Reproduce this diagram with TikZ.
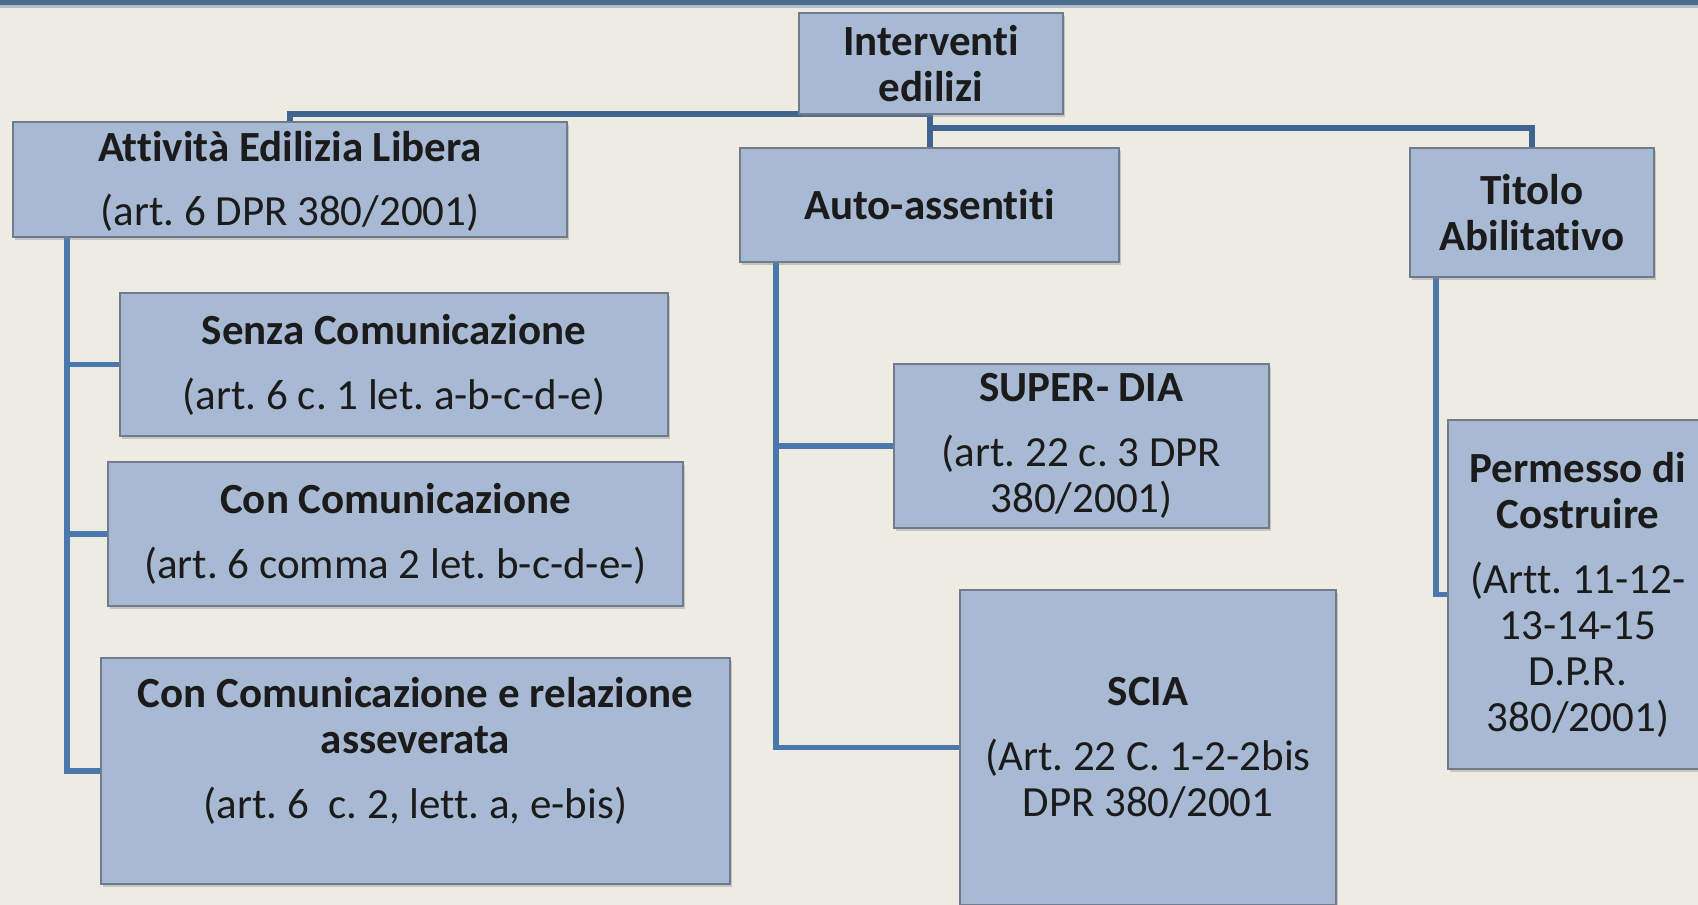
\documentclass[tikz,border=0pt]{standalone}
\usepackage{fontspec}
\setmainfont[Ligatures=NoCommon]{Carlito}
\usetikzlibrary{shadows,calc}
\pgfdeclarelayer{bgfill}
\pgfdeclarelayer{lines}
\pgfsetlayers{bgfill,lines,main}
\definecolor{bg}{HTML}{EEEBE2}
\definecolor{boxfill}{HTML}{A8B9D3}
\definecolor{boxline}{HTML}{707C8C}
\definecolor{conn}{HTML}{4A78AD}
\definecolor{conntop}{HTML}{3E6590}
\definecolor{topbar}{HTML}{4A6A8E}
\definecolor{txt}{HTML}{1B1B1B}
\frenchspacing
\newcommand\mkbox[7]{%
  \node[box, anchor=north west, minimum width={(#4-#2)*1pt}, minimum height={(#5-#3)*1pt}] (#1) at (#2,#3) {};
  \node[lbl] (#1-t) at ([yshift=#6]#1.center) {#7};
}
\begin{document}
\begin{tikzpicture}[x=1pt,y=-1pt,
  box/.style={draw=boxline, line width=1.2pt, fill=boxfill, inner sep=0pt, outer sep=0pt,
    drop shadow={shadow xshift=2pt, shadow yshift=-3pt, opacity=0.35}},
  lbl/.style={align=center, text=txt, font=\fontsize{43}{46}\selectfont, inner sep=0pt},
  link/.style={draw=conn, line width=5.5pt},
  linktop/.style={draw=conntop, line width=6pt}]
\begin{pgfonlayer}{bgfill}
\fill[bg] (0,0) rectangle (1698,905);
\fill[topbar] (0,0) rectangle (1698,5);
\fill[topbar!45!white] (0,5) rectangle (1698,8);
\end{pgfonlayer}
\useasboundingbox (0,0) rectangle (1698,905);
\clip (0,0) rectangle (1698,905);
\mkbox{int}{799}{13}{1063}{114}{0pt}{\textbf{Interventi}\\\textbf{edilizi}}
\mkbox{att}{13}{122}{567}{237}{-2pt}{\textbf{Attività Edilizia Libera}\\[18pt](art. 6 DPR 380/2001)}
\mkbox{auto}{740}{148}{1119}{262}{0pt}{\textbf{Auto-assentiti}}
\mkbox{tit}{1410}{148}{1654}{277}{0pt}{\textbf{Titolo}\\\textbf{Abilitativo}}
\mkbox{senza}{120}{293}{668}{436}{0pt}{\textbf{Senza Comunicazione}\\[19pt](art. 6 c. 1 let. a-b-c-d-e)}
\mkbox{con}{108}{462}{683}{606}{0pt}{\textbf{Con Comunicazione}\\[19pt](art. 6 comma 2 let. b-c-d-e-)}
\mkbox{conrel}{101}{658}{730}{884}{20pt}{\textbf{Con Comunicazione e relazione}\\\textbf{asseverata}\\[19pt](art. 6~~c. 2, lett. a, e-bis)}
\mkbox{super}{894}{364}{1269}{528}{0pt}{\textbf{SUPER- DIA}\\[19pt](art. 22 c. 3 DPR\\380/2001)}
\mkbox{scia}{960}{590}{1336}{905}{0pt}{\textbf{SCIA}\\[19pt](Art. 22 C. 1-2-2bis\\DPR 380/2001}
\mkbox{perm}{1448}{420}{1708}{769}{0pt}{\textbf{Permesso di}\\\textbf{Costruire}\\[19pt](Artt. 11-12-\\13-14-15\\D.P.R.\\380/2001)}
% connectors
\coordinate (jtop) at (auto.north |- int.south);
\coordinate (jr) at ($(jtop)+(0,14)$);
\coordinate (a0) at ([xshift=54pt]att.south west);
\coordinate (m0) at ([xshift=36pt]auto.south west);
\coordinate (r0) at ([xshift=26pt]tit.south west);
\begin{pgfonlayer}{lines}
\draw[linktop] (jtop) -| (att.north);
\draw[linktop] (jtop) -- (auto.north);
\draw[linktop] (jr) -| (tit.north);
\draw[link] (a0) |- (conrel.west);
\draw[link] (a0 |- senza.west) -- (senza.west);
\draw[link] (a0 |- con.west) -- (con.west);
\draw[link] (m0) |- (scia.west);
\draw[link] (m0 |- super.west) -- (super.west);
\draw[link] (r0) |- (perm.west);
\end{pgfonlayer}
\end{tikzpicture}
\end{document}
